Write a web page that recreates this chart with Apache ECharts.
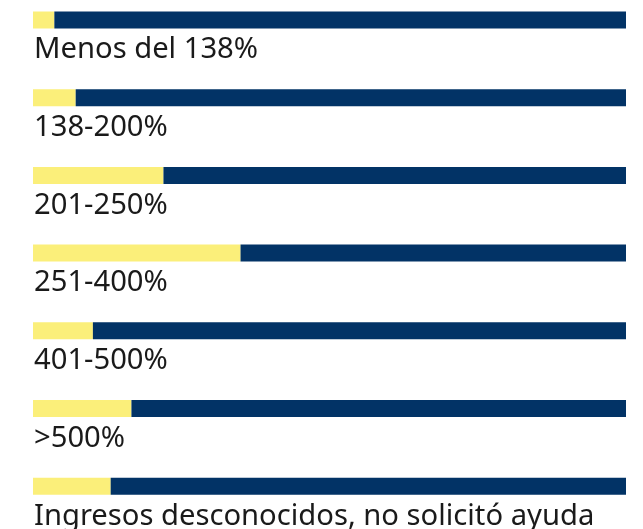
<!DOCTYPE html>
<html>
<head>
<meta charset="utf-8">
<script src="https://cdn.jsdelivr.net/npm/echarts@6/dist/echarts.min.js"></script>
<style>
html,body{margin:0;padding:0;background:#fff;}
#chart{width:643px;height:529px;}
</style>
</head>
<body>
<div id="chart"></div>
<script>
var categories = [
  'Menos del 138%',
  '138-200%',
  '201-250%',
  '251-400%',
  '401-500%',
  '>500%',
  'Ingresos desconocidos, no solicitó ayuda'
];
var yellowValues = [3.6, 7.2, 22.0, 35.0, 10.1, 16.6, 13.1];
var blueValues = [96.4, 92.8, 78.0, 65.0, 89.9, 83.4, 86.9];

var chart = echarts.init(document.getElementById('chart'), null, {renderer: 'canvas'});
chart.setOption({
  animation: false,
  backgroundColor: '#ffffff',
  grid: {left: 33, right: 17, top: 20, bottom: 42.8},
  xAxis: {
    type: 'value', min: 0, max: 100,
    show: false
  },
  yAxis: {
    type: 'category',
    data: categories,
    inverse: true,
    boundaryGap: false,
    show: false
  },
  series: [
    {
      type: 'bar', stack: 'total', data: yellowValues,
      barWidth: 17,
      itemStyle: {color: '#FBEF7A'},
      label: {
        show: true,
        position: [1, 24],
        align: 'left',
        verticalAlign: 'top',
        formatter: '{b}',
        fontFamily: 'Noto Sans',
        fontSize: 29.2,
        color: '#1a1a1a'
      },
      labelLayout: {hideOverlap: false}
    },
    {
      type: 'bar', stack: 'total', data: blueValues,
      barWidth: 17,
      itemStyle: {color: '#023366'}
    }
  ]
});
</script>
</body>
</html>
